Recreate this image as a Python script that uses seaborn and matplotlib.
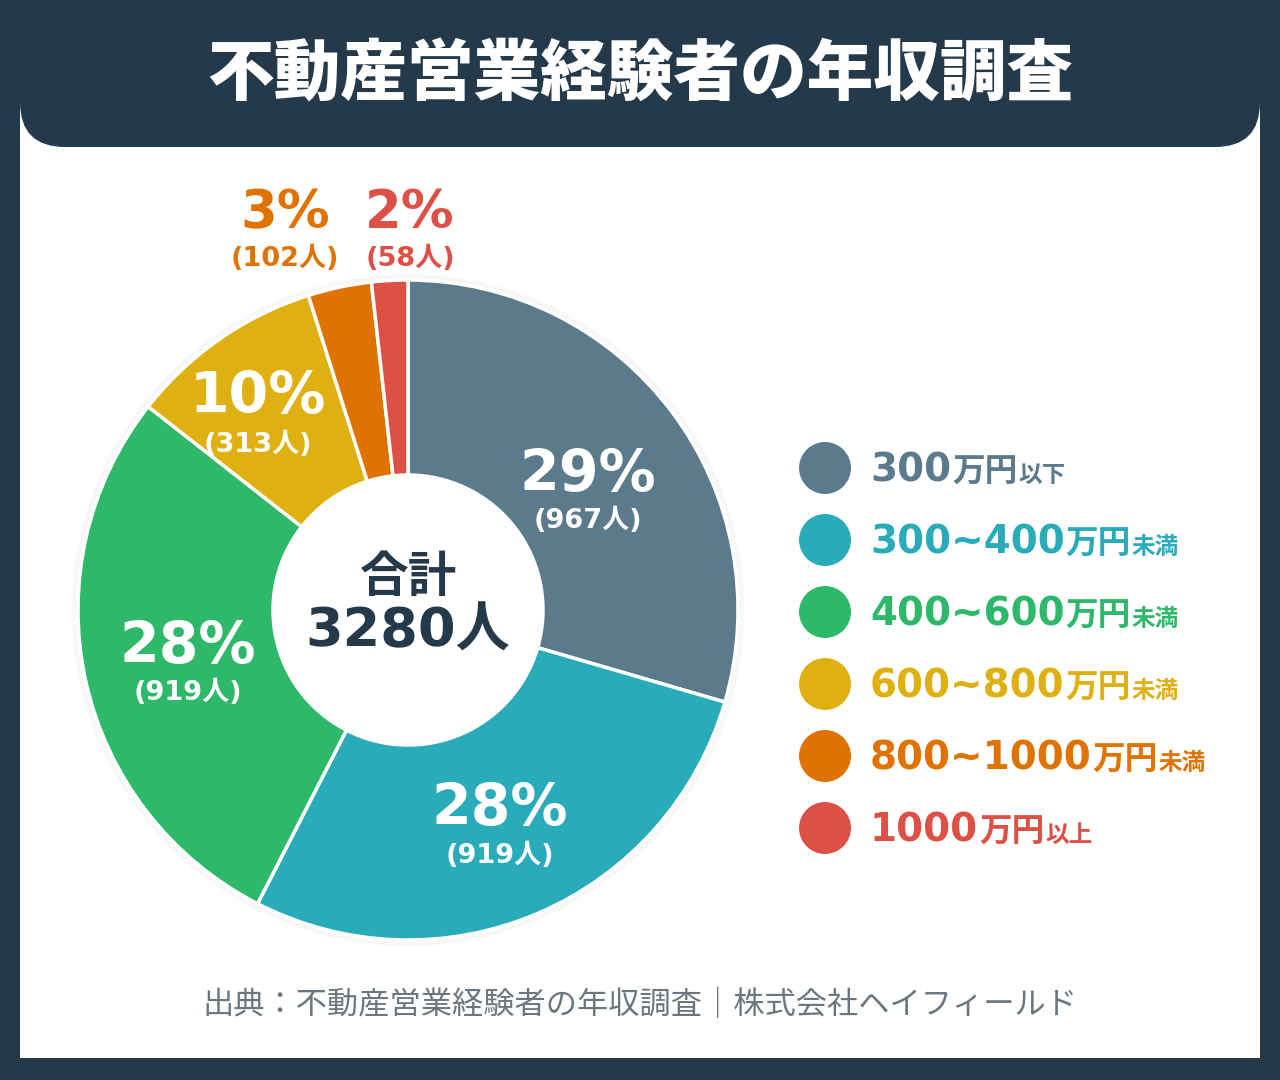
import numpy as np
import pandas as pd
import matplotlib
matplotlib.use("Agg")
import matplotlib.pyplot as plt
import seaborn as sns
from matplotlib.patches import Rectangle, FancyBboxPatch, Circle

# ---------------- data ----------------
categories = ["300万円以下", "300~400万円未満", "400~600万円未満",
              "600~800万円未満", "800~1000万円未満", "1000万円以上"]
legend_main = ["300", "300~400", "400~600", "600~800", "800~1000", "1000"]
legend_unit = ["万円", "万円", "万円", "万円", "万円", "万円"]
legend_suffix = ["以下", "未満", "未満", "未満", "未満", "以上"]
counts = [967, 919, 919, 313, 102, 58]
total_label = 3280
colors = ["#5b7a8b", "#2aabba", "#2eb86a", "#dfb012", "#e07200", "#dc5046"]
title = "不動産営業経験者の年収調査"
center_top = "合計"
source = "出典：不動産営業経験者の年収調査｜株式会社ヘイフィールド"

# ---------------- style ----------------
sns.set_theme(style="white")
JP = "Noto Sans CJK JP"
MIX = ["DejaVu Sans", "Noto Sans CJK JP"]
plt.rcParams["font.family"] = MIX
DARK = "#243a4a"

W, H = 1280, 1080
fig = plt.figure(figsize=(W / 100, H / 100), dpi=100)
fig.patch.set_facecolor(DARK)

# background panel
bg = fig.add_axes([0, 0, 1, 1], zorder=-5)
bg.set_xlim(0, W)
bg.set_ylim(H, 0)
bg.axis("off")
bg.add_patch(Rectangle((20, 20), 1240, 1038, facecolor="white", edgecolor="none"))
bg.add_patch(FancyBboxPatch((20, -80), 1240, 227,
                            boxstyle="round,pad=0,rounding_size=45",
                            facecolor=DARK, edgecolor="none"))
bg.text(640, 76, title, color="white", fontsize=48, fontweight="black",
        family=JP, ha="center", va="center")
bg.text(640, 1005, source, color="#6b767e", fontsize=22.5, family=JP,
        ha="center", va="center")

# ---------------- donut ----------------
CX, CY, R = 408, 610, 330
LIM = 1.2
half = LIM * R
ax = fig.add_axes([(CX - half) / W, (H - CY - half) / H, 2 * half / W, 2 * half / H])
ax.axis("off")

# soft shadow
for k in range(4):
    ax.add_patch(Circle((0, 0), 1.0 + 0.004 * (k + 1), facecolor="none",
                        edgecolor="#000000", alpha=0.018, linewidth=1.5))

pal = sns.color_palette(colors)
ax.pie(counts, colors=pal, startangle=90, counterclock=False, radius=1.0,
       wedgeprops=dict(width=1 - 135 / 330, edgecolor="white", linewidth=2.5))
ax.set_xlim(-LIM, LIM)
ax.set_ylim(-LIM, LIM)
ax.set_aspect("equal")

def to_data(px, py):
    return (px - CX) / R, (CY - py) / R

# label anchor positions in pixels (pct line, count line)
label_pos = [((588, 475), (588, 521)),
             ((500, 810), (500, 856)),
             ((188, 648), (188, 693)),
             ((258, 398), (258, 445)),
             ((285, 213), (285, 259)),
             ((410, 213), (410, 259))]
for i, c in enumerate(counts):
    pct = round(c / total_label * 100)
    inside = i < 4
    col = "white" if inside else colors[i]
    (p1, p2) = label_pos[i]
    x1, y1 = to_data(*p1)
    x2, y2 = to_data(*p2)
    ax.text(x1, y1, f"{pct}%", color=col, fontsize=41 if inside else 38,
            fontweight="bold", ha="center", va="center", family=MIX)
    ax.text(x2, y2, f"({c}人)", color=col, fontsize=19.5,
            fontweight="bold", ha="center", va="center", family=MIX)

cx1, cy1 = to_data(408, 578)
cx2, cy2 = to_data(408, 632)
ax.text(cx1, cy1, center_top, color=DARK, fontsize=35, fontweight="bold",
        family=JP, ha="center", va="center")
ax.text(cx2, cy2, f"{total_label}人", color=DARK, fontsize=39, fontweight="bold",
        family=MIX, ha="center", va="center")

# ---------------- legend ----------------
LX0, LY0, LW, LH = 780, 432, 460, 432
axl = fig.add_axes([LX0 / W, (H - LY0 - LH) / H, LW / W, LH / H])
df = pd.DataFrame({"category": categories, "row": np.arange(len(categories)),
                   "x": np.zeros(len(categories))})
sns.scatterplot(data=df, x="x", y="row", hue="category", palette=colors,
                s=1400, edgecolor="none", legend=False, ax=axl)
axl.set_xlim(-45, LW - 45)
axl.set_ylim(len(categories) - 0.5, -0.5)
axl.axis("off")

renderer = fig.canvas.get_renderer()
row_px = LH / len(categories)
for i in range(len(categories)):
    yb = i + 14 / row_px
    x = 45
    parts = [(legend_main[i], 28, MIX), (legend_unit[i], 23.5, JP), (legend_suffix[i], 17, JP)]
    for txt, fs, fam in parts:
        t = axl.text(x, yb, txt, color=colors[i], fontsize=fs, fontweight="bold",
                     family=fam, ha="left", va="baseline")
        bb = t.get_window_extent(renderer=renderer)
        x += bb.width + 1

fig.savefig("out.png", dpi=100, facecolor=fig.get_facecolor())
